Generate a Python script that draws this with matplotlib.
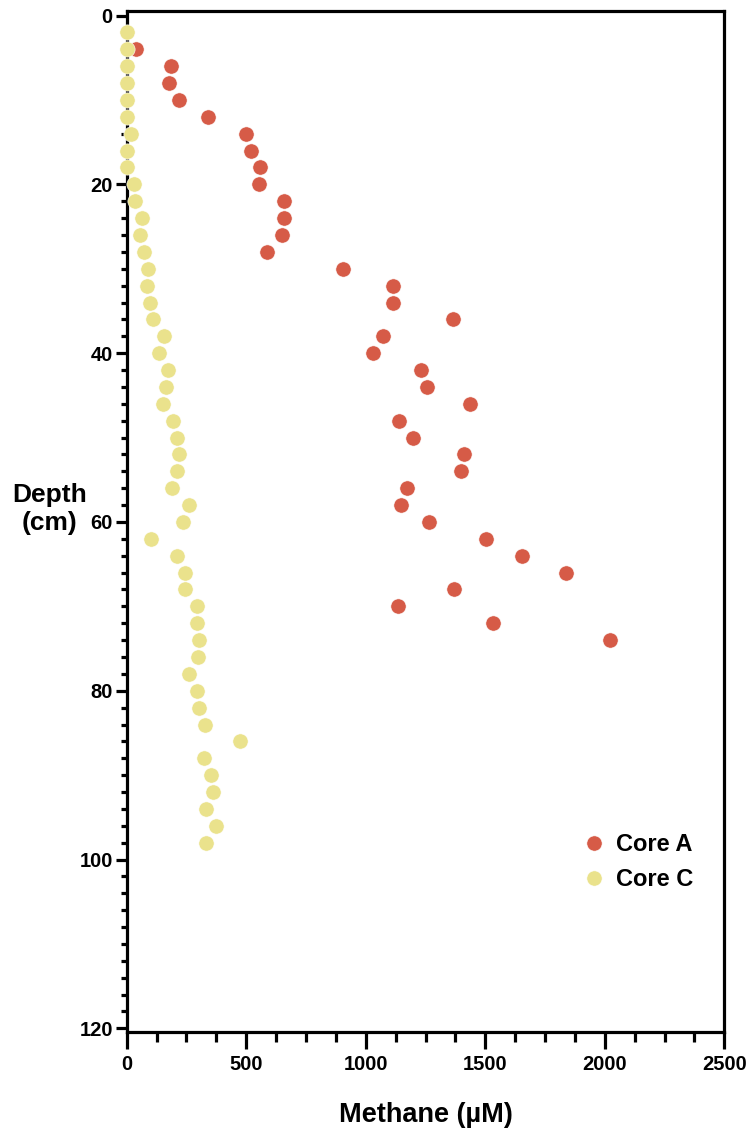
import numpy as np
import matplotlib
matplotlib.use("Agg")
import matplotlib.pyplot as plt
from matplotlib.ticker import MultipleLocator

plt.rcParams['font.family'] = ['Liberation Sans', 'DejaVu Sans']
plt.rcParams['font.weight'] = 'bold'

# Core A (red)
depth_a = [4, 6, 8, 10, 12, 14, 16, 18, 20, 22, 24, 26, 28, 30, 32, 34, 36, 38,
           40, 42, 44, 46, 48, 50, 52, 54, 56, 58, 60, 62, 64, 66, 68, 70, 72, 74]
methane_a = [37, 184, 177, 220, 339, 499, 520, 557, 554, 660, 660, 649, 587, 904,
             1113, 1113, 1365, 1073, 1032, 1230, 1257, 1436, 1138, 1197, 1413, 1400,
             1172, 1148, 1264, 1503, 1655, 1837, 1369, 1133, 1531, 2020]

# Core C (yellow)
depth_c = [2, 4, 6, 8, 10, 12, 14, 16, 18, 20, 22, 24, 26, 28, 30, 32, 34, 36, 38,
           40, 42, 44, 46, 48, 50, 52, 54, 56, 58, 60, 62, 64, 66, 68, 70, 72, 74,
           76, 78, 80, 82, 84, 86, 88, 90, 92, 94, 96, 98]
methane_c = [0, 0, 0, 0, 0, 0, 18, 0, 0, 29, 36, 63, 56, 72, 90, 86, 97, 111, 157,
             135, 173, 165, 153, 195, 209, 220, 210, 188, 262, 234, 100, 212, 245,
             244, 294, 294, 303, 297, 259, 293, 303, 329, 472, 323, 354, 361, 333,
             372, 330]

red = '#D65B47'
yellow = '#EAE28C'

fig = plt.figure(figsize=(7.51, 11.34), dpi=100)
ax = fig.add_axes([0.1687, 0.0902, 0.7958, 0.8998])

ax.plot(methane_a, depth_a, 'o', color=red, markersize=11, markeredgecolor='white',
        markeredgewidth=0.4, label='Core A', zorder=3)
ax.plot(methane_c, depth_c, 'o', color=yellow, markersize=11, markeredgecolor='white',
        markeredgewidth=0.4, label='Core C', zorder=4, clip_on=False)

ax.set_xlim(0, 2500)
ax.set_ylim(120.4, -0.5)

ax.xaxis.set_major_locator(MultipleLocator(500))
ax.xaxis.set_minor_locator(MultipleLocator(125))
ax.yaxis.set_major_locator(MultipleLocator(20))
ax.yaxis.set_minor_locator(MultipleLocator(2))

for s in ax.spines.values():
    s.set_linewidth(2.3)

ax.tick_params(axis='x', which='major', length=12, width=2.3, labelsize=14.5, pad=5)
ax.tick_params(axis='x', which='minor', length=7, width=2.3)
ax.tick_params(axis='y', which='major', length=8, width=2.3, labelsize=14.5, pad=2)
ax.tick_params(axis='y', which='minor', length=4.5, width=2.3)
for lab in ax.get_xticklabels() + ax.get_yticklabels():
    lab.set_fontweight('bold')

ax.set_xlabel('Methane (µM)', fontsize=19.5, fontweight='bold', labelpad=20)
fig.text(0.066, 0.551, 'Depth\n(cm)', fontsize=19, fontweight='bold',
         ha='center', va='center', multialignment='center', linespacing=1.2)

leg = ax.legend(loc='upper left', bbox_to_anchor=(0.742, 0.206), frameon=False,
                fontsize=17, handletextpad=0.45, labelspacing=0.5, borderpad=0,
                handlelength=1.0)
for t in leg.get_texts():
    t.set_fontweight('bold')

fig.savefig('out.png', dpi=100)
